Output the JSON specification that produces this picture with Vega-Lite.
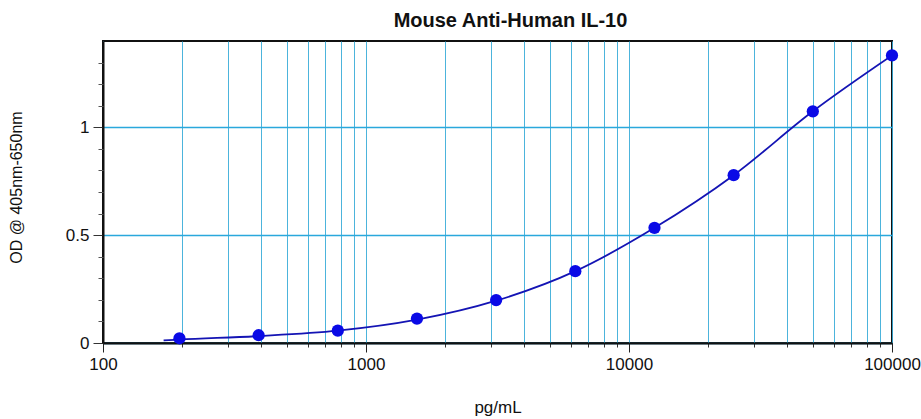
{
  "$schema": "https://vega.github.io/schema/vega-lite/v6.json",
  "autosize": {"type": "none"},
  "width": 789,
  "height": 302,
  "padding": {"left": 103, "top": 41, "right": 29, "bottom": 76},
  "background": "white",
  "config": {
    "font": "Liberation Sans",
    "view": {"stroke": "#111111", "strokeWidth": 2}
  },
  "title": {
    "text": "Mouse Anti-Human IL-10",
    "fontSize": 20,
    "fontWeight": "bold",
    "font": "Liberation Sans",
    "color": "#111111",
    "anchor": "middle",
    "offset": 10,
    "dx": 13
  },
  "datasets": {
    "points": [
      {"conc": 195.3, "od": 0.022},
      {"conc": 390.6, "od": 0.036},
      {"conc": 781.25, "od": 0.057},
      {"conc": 1562.5, "od": 0.113},
      {"conc": 3125, "od": 0.199},
      {"conc": 6250, "od": 0.333},
      {"conc": 12500, "od": 0.534},
      {"conc": 25000, "od": 0.778},
      {"conc": 50000, "od": 1.074},
      {"conc": 100000, "od": 1.333}
    ],
    "curve": [
      {"conc": 170, "od": 0.012},
      {"conc": 195.3, "od": 0.016},
      {"conc": 390.6, "od": 0.032},
      {"conc": 781.25, "od": 0.057},
      {"conc": 1562.5, "od": 0.108},
      {"conc": 3125, "od": 0.196},
      {"conc": 6250, "od": 0.333},
      {"conc": 12500, "od": 0.534},
      {"conc": 25000, "od": 0.778},
      {"conc": 50000, "od": 1.074},
      {"conc": 100000, "od": 1.333}
    ]
  },
  "resolve": {"axis": {"x": "independent", "y": "independent"}},
  "layer": [
    {
      "data": {"name": "curve"},
      "mark": {"type": "line", "interpolate": "monotone", "color": "#1414b4", "strokeWidth": 1.8, "clip": true},
      "encoding": {
        "x": {
          "field": "conc",
          "type": "quantitative",
          "scale": {"type": "log", "domain": [100, 100000], "nice": false},
          "axis": {
            "orient": "bottom",
            "title": null,
            "values": [100, 200, 300, 400, 500, 600, 700, 800, 900, 1000, 2000, 3000, 4000, 5000, 6000, 7000, 8000, 9000, 10000, 20000, 30000, 40000, 50000, 60000, 70000, 80000, 90000, 100000],
            "labels": false,
            "grid": true,
            "gridColor": "#38acd8",
            "gridWidth": 1,
            "gridOpacity": 0.9,
            "domainColor": "#111111",
            "domainWidth": 2,
            "tickColor": "#333333",
            "tickWidth": 1,
            "tickSize": 4
          }
        },
        "y": {
          "field": "od",
          "type": "quantitative",
          "scale": {"domain": [0, 1.4], "nice": false, "zero": true},
          "axis": {
            "orient": "left",
            "title": "OD @ 405nm-650nm",
            "titleFontSize": 16,
            "titleFontWeight": "normal",
            "titleColor": "#111111",
            "titleAngle": -90,
            "titleX": -87,
            "titleY": 146,
            "titleAlign": "center",
            "titleBaseline": "middle",
            "values": [0, 0.5, 1],
            "format": "~g",
            "labelFontSize": 17,
            "labelColor": "#111111",
            "labelPadding": 4,
            "labelFlush": false,
            "labelOverlap": false,
            "grid": true,
            "gridColor": "#2aa8dc",
            "gridWidth": 1.3,
            "gridOpacity": 1,
            "domainColor": "#111111",
            "domainWidth": 2,
            "tickColor": "#333333",
            "tickWidth": 1,
            "tickSize": 10
          }
        }
      }
    },
    {
      "data": {"name": "points"},
      "mark": {"type": "circle", "color": "#0a0ae6", "opacity": 1, "size": 150, "clip": false},
      "encoding": {
        "x": {
          "field": "conc",
          "type": "quantitative",
          "axis": {
            "orient": "bottom",
            "title": "pg/mL",
            "titleFontSize": 17,
            "titleFontWeight": "normal",
            "titleColor": "#111111",
            "titlePadding": 27,
            "values": [100, 1000, 10000, 100000],
            "format": "d",
            "labelFontSize": 17,
            "labelColor": "#111111",
            "labelPadding": 4,
            "labelFlush": false,
            "labelOverlap": false,
            "grid": false,
            "domain": false,
            "tickColor": "#222222",
            "tickWidth": 1,
            "tickSize": 9
          }
        },
        "y": {
          "field": "od",
          "type": "quantitative",
          "axis": {
            "orient": "left",
            "title": null,
            "values": [0.1, 0.2, 0.3, 0.4, 0.6, 0.7, 0.8, 0.9, 1.1, 1.2, 1.3],
            "labels": false,
            "grid": false,
            "domain": false,
            "tickColor": "#555555",
            "tickWidth": 1,
            "tickSize": 5
          }
        }
      }
    }
  ]
}
